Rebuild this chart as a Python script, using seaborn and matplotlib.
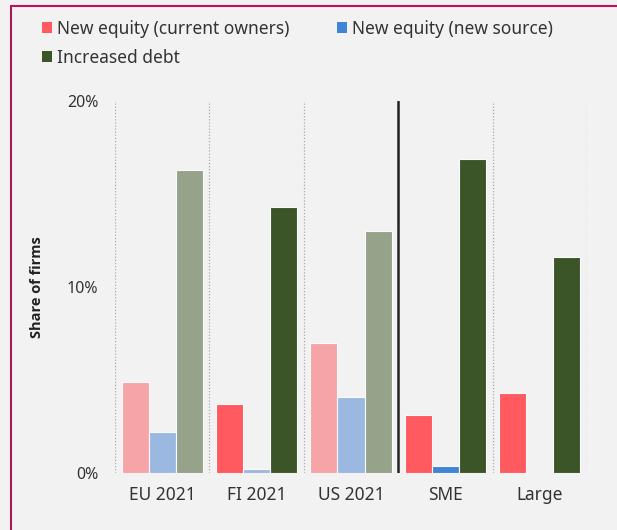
import numpy as np
import pandas as pd
import matplotlib
matplotlib.use("Agg")
import matplotlib.pyplot as plt
import seaborn as sns
from matplotlib.lines import Line2D
from matplotlib.patches import Patch
from matplotlib.ticker import FuncFormatter

# data (share of firms, %)
groups = ["EU 2021", "FI 2021", "US 2021", "SME", "Large"]
series = ["New equity (current owners)", "New equity (new source)", "Increased debt"]
equity_current = [4.9, 3.7, 7.0, 3.1, 4.3]
equity_new = [2.2, 0.2, 4.1, 0.4, 0.0]
debt = [16.3, 14.3, 13.0, 16.9, 11.6]

full_colors = ["#ff5a5f", "#3f84d6", "#3b5528"]
faded_colors = ["#f7a4a9", "#9ab8e0", "#96a38a"]
faded_groups = ["EU 2021", "US 2021"]
faded_bars = [("FI 2021", "New equity (new source)")]

df = pd.DataFrame({
    "group": groups * 3,
    "series": np.repeat(series, len(groups)),
    "value": equity_current + equity_new + debt,
})

sns.set_style("white")
plt.rcParams["font.family"] = ["Noto Sans", "DejaVu Sans"]
bg = "#f2f2f2"

fig = plt.figure(figsize=(6.17, 5.30), dpi=100, facecolor=bg)
ax = fig.add_axes([115 / 617, 57 / 530, 472 / 617, 372 / 530], facecolor=bg)

sns.barplot(data=df, x="group", y="value", hue="series", order=groups,
            hue_order=series, palette=full_colors, saturation=1, width=0.86,
            edgecolor="#fafafa", linewidth=0.8, legend=False, ax=ax)

# faded colours for the comparison groups
for s_idx, cont in enumerate(ax.containers):
    for g_idx, bar in enumerate(cont):
        if groups[g_idx] in faded_groups or (groups[g_idx], series[s_idx]) in faded_bars:
            bar.set_facecolor(faded_colors[s_idx])

ax.set_xlim(-0.5, len(groups) - 0.5)
ax.set_ylim(0, 20)
ax.set_yticks([0, 10, 20])
ax.yaxis.set_major_formatter(FuncFormatter(lambda v, p: f"{v:.0f}%"))
ax.tick_params(axis="y", length=0, pad=12, labelsize=11.5, labelcolor="#333333")
ax.tick_params(axis="x", length=0, pad=9, labelsize=12.5, labelcolor="#333333")
ax.set_xlabel("")
ax.set_ylabel("Share of firms", fontsize=10.5, fontweight="bold", color="#222222",
              family=["Open Sans", "DejaVu Sans"])
ax.yaxis.set_label_coords(-0.150, 0.5)
for sp in ax.spines.values():
    sp.set_visible(False)

# separators
for xv in [-0.5, 0.5, 1.5, 3.5, 4.5]:
    ax.axvline(xv, color="#aaaaaa", lw=0.9, ls=(0, (1, 1.5)), zorder=0)
ax.axvline(2.5, ymin=-0.006, color="#222222", lw=1.8, zorder=3)

# legend, filled row by row
order = [0, 2, 1]
handles = [Patch(facecolor=full_colors[i], edgecolor="none") for i in order]
labels = [series[i] for i in order]
fig.legend(handles, labels, loc="upper left", bbox_to_anchor=(26 / 617, 1 - 4 / 530),
           ncol=2, frameon=False, fontsize=12.5, handlelength=0.575, handleheight=0.575,
           handletextpad=0.29, columnspacing=2.76, labelspacing=0.64,
           labelcolor="#333333")

# frame border lines (top and left)
fig.add_artist(Line2D([11 / 617, 11 / 617], [0, 1 - 6 / 530], color="#a8195a", lw=1.5))
fig.add_artist(Line2D([11 / 617, 1], [1 - 6 / 530, 1 - 6 / 530], color="#c0105e", lw=1.5))

fig.savefig("out.png", dpi=100, facecolor=bg)
